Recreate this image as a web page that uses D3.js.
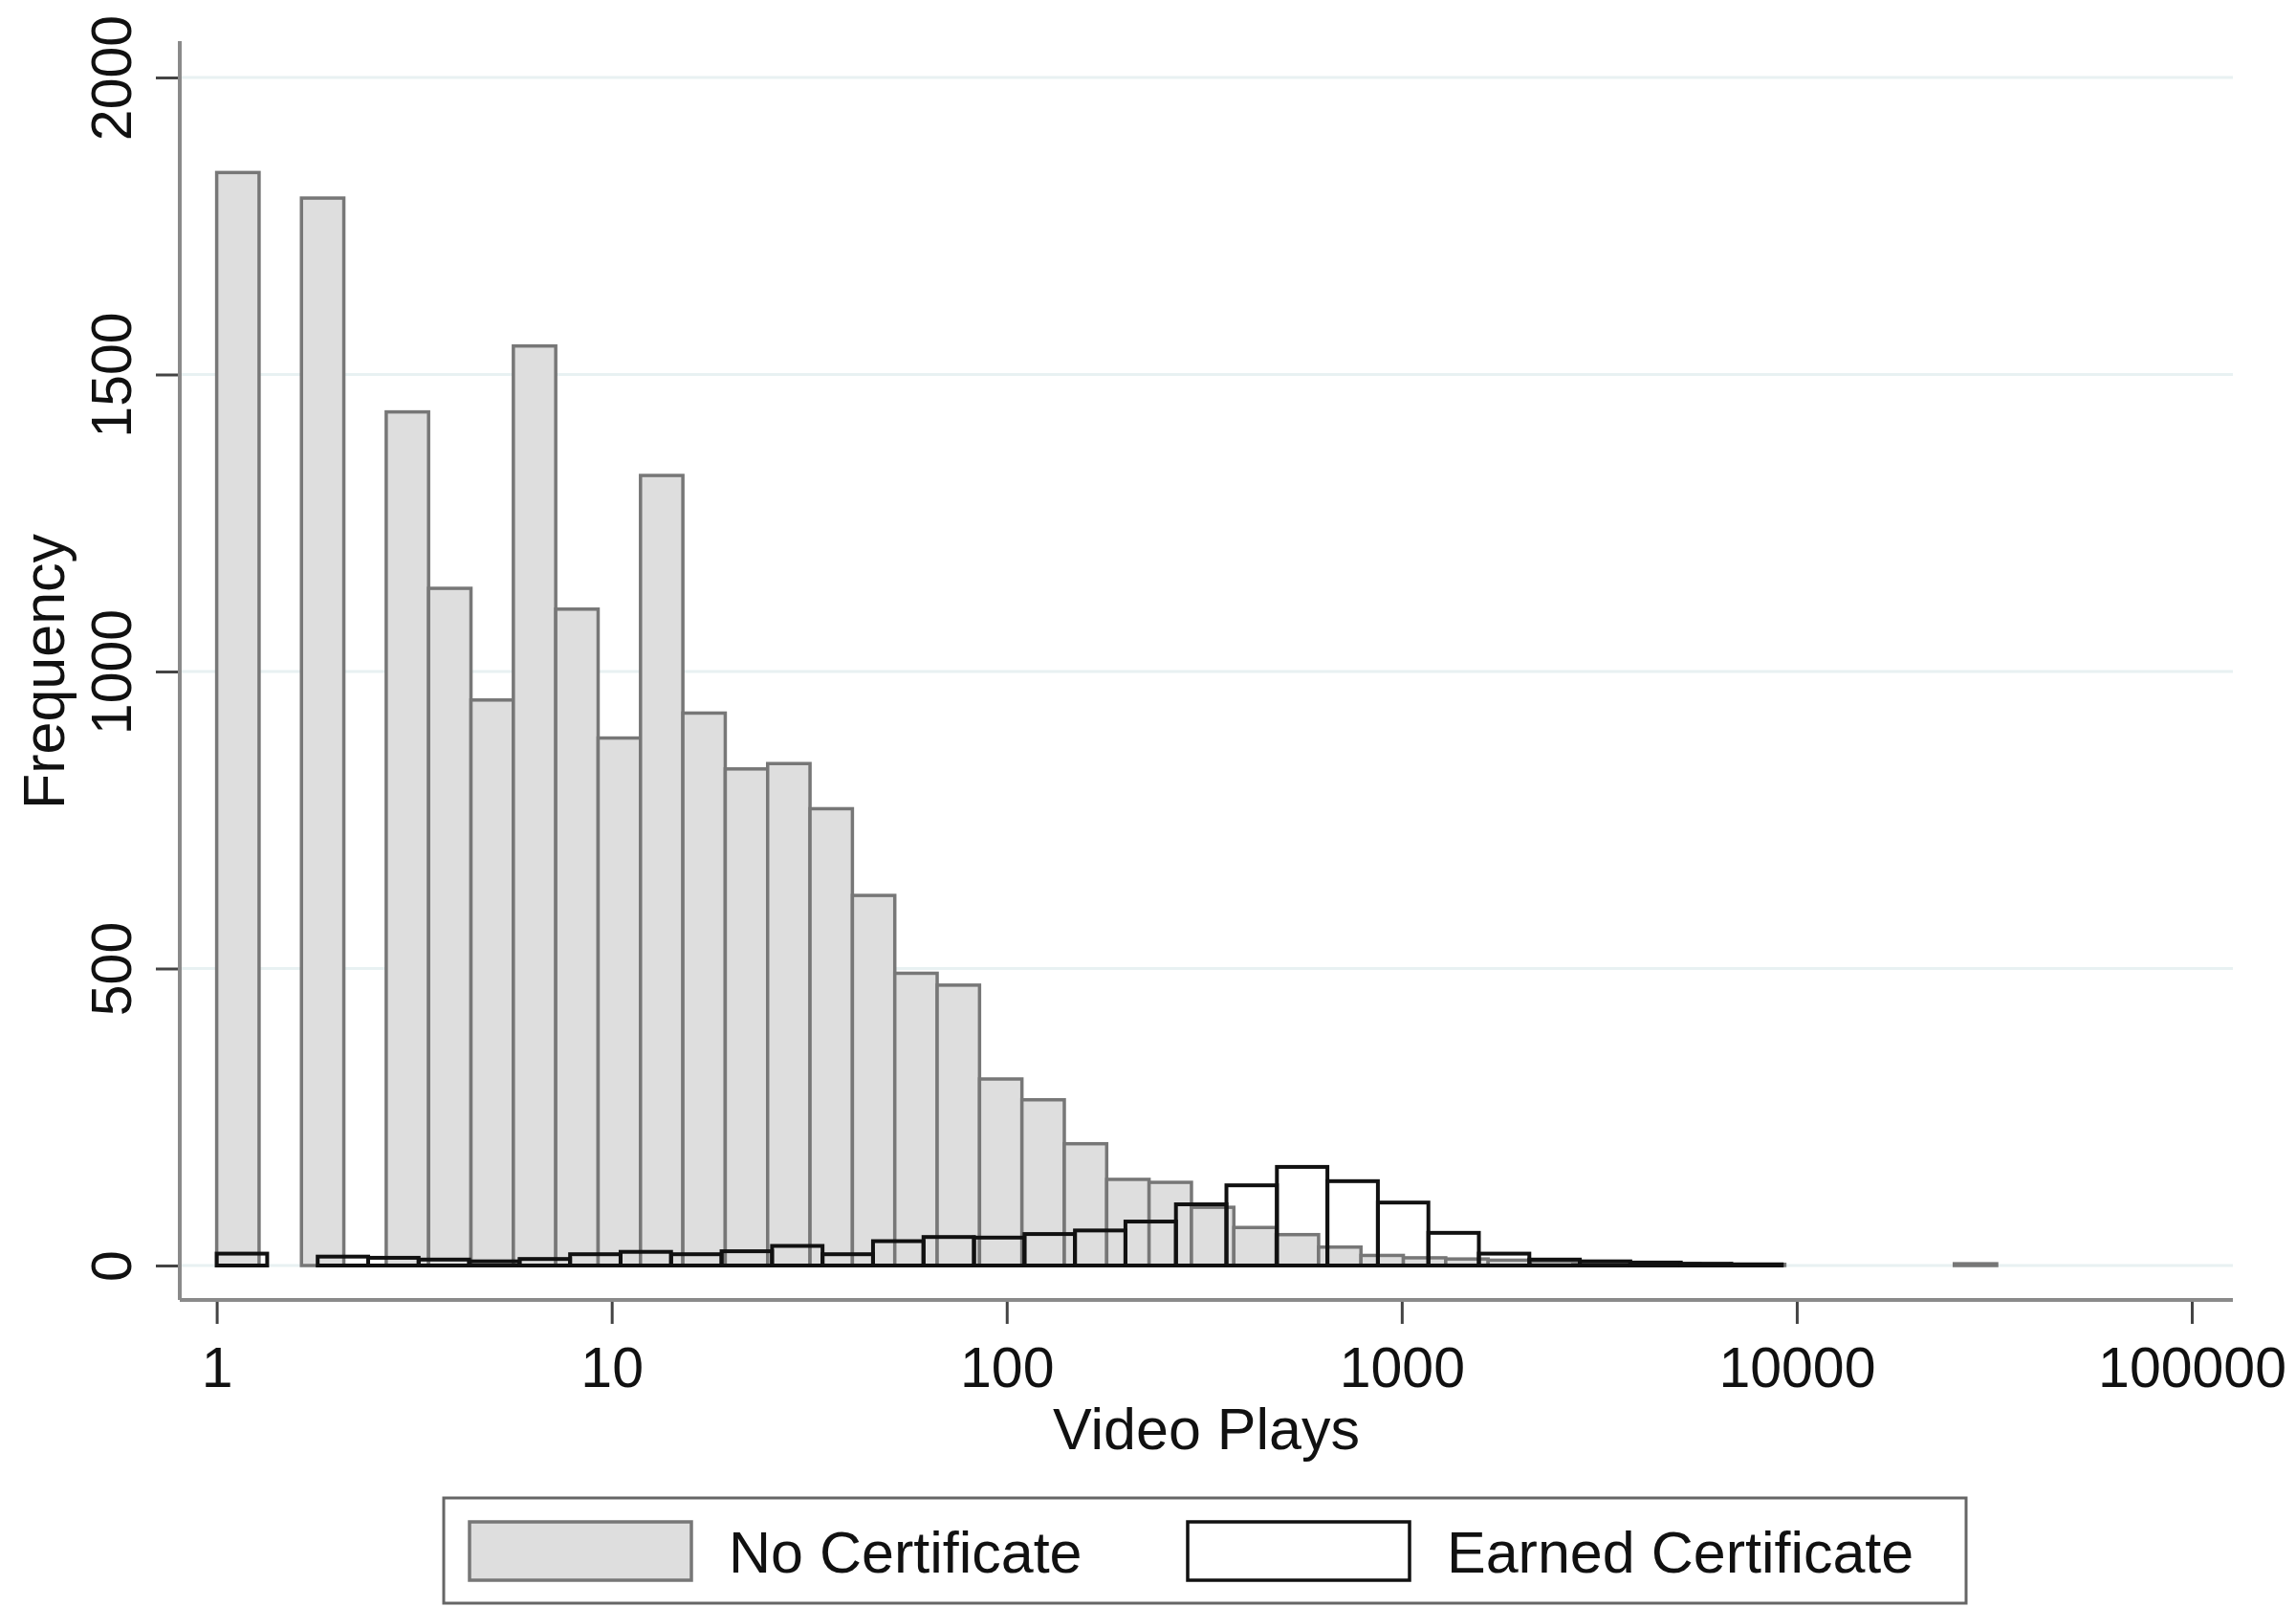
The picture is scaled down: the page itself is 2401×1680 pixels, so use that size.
<!DOCTYPE html>
<html>
<head>
<meta charset="utf-8">
<script src="https://cdn.jsdelivr.net/npm/d3@7"></script>
<style>
  body { margin: 0; background: #fff; }
  svg { display: block; }
  text { font-family: "Liberation Sans", Arial, Helvetica, sans-serif; fill: #111; }
</style>
</head>
<body>
<script>
// histogram bins are equal width in log10(video plays), starting at 1 play
let grayBinWidth = 0.10729;
let earnedBinWidth = 0.12781;

// No Certificate counts per bin
let noCertCounts = [1840, 0, 1797, 0, 1437, 1140, 952, 1548, 1105, 888,
	1330, 930, 836, 845, 769, 623, 492, 472, 314, 279,
	205, 145, 140, 98, 64, 52, 31, 17, 13, 11,
	9, 7, 5, 4, 3, 2, 2, 0, 0, 0, 0, 3];

// Earned Certificate counts per bin
let earnedCounts = [20, 0, 15, 13, 10, 7, 11, 19, 23, 19,
	24, 33, 19, 41, 48, 47, 53, 59, 74, 103,
	135, 166, 142, 106, 55, 20, 10, 7, 5, 3, 2];

let xTicks = [1, 10, 100, 1000, 10000, 100000];
let yTicks = [0, 500, 1000, 1500, 2000];
let legendLabels = ["No Certificate", "Earned Certificate"];

let width = 2401, height = 1680;
let axisX = 188, axisY = 1359, plotRight = 2335, plotTop = 43;

let x = d3.scaleLog().domain([1, 100000]).range([226.6, 2292]);
let y = d3.scaleLinear().domain([0, 2000]).range([1323, 81]);

function bins(counts, w) {
	return counts.map((c, i) => ({
		x0: Math.pow(10, i * w),
		x1: Math.pow(10, (i + 1) * w),
		count: c
	})).filter(d => d.count > 0);
}

let svg = d3.select("body").append("svg")
	.attr("width", width)
	.attr("height", height);

// gridlines
svg.append("g")
	.selectAll("line")
	.data(yTicks)
	.join("line")
		.attr("x1", axisX)
		.attr("x2", plotRight)
		.attr("y1", d => y(d))
		.attr("y2", d => y(d))
		.attr("stroke", "#e8f1f2")
		.attr("stroke-width", 3);

// no certificate bars
svg.append("g")
	.selectAll("rect")
	.data(bins(noCertCounts, grayBinWidth))
	.join("rect")
		.attr("x", d => x(d.x0))
		.attr("width", d => x(d.x1) - x(d.x0))
		.attr("y", d => y(d.count))
		.attr("height", d => y(0) - y(d.count))
		.attr("fill", "#dedede")
		.attr("stroke", "#777")
		.attr("stroke-width", 3.5);

// earned certificate bars (outline only)
svg.append("g")
	.selectAll("rect")
	.data(bins(earnedCounts, earnedBinWidth))
	.join("rect")
		.attr("x", d => x(d.x0))
		.attr("width", d => x(d.x1) - x(d.x0))
		.attr("y", d => y(d.count))
		.attr("height", d => y(0) - y(d.count))
		.attr("fill", "none")
		.attr("stroke", "#111")
		.attr("stroke-width", 4);

// y axis
let yAxis = svg.append("g")
	.attr("transform", "translate(" + axisX + ",0)")
	.call(d3.axisLeft(y).tickValues(yTicks).tickSize(25).tickFormat(d3.format("d")));
yAxis.select(".domain").remove();
yAxis.selectAll(".tick line").attr("stroke", "#444").attr("stroke-width", 3);
yAxis.selectAll(".tick text")
	.attr("x", null)
	.attr("dy", null)
	.attr("transform", "translate(-51,0) rotate(-90)")
	.attr("text-anchor", "middle")
	.style("font-size", "59px")
	.attr("fill", "#111");

// x axis
let xAxis = svg.append("g")
	.attr("transform", "translate(0," + axisY + ")")
	.call(d3.axisBottom(x).tickValues(xTicks).tickSize(25).tickPadding(24).tickFormat(d3.format("d")));
xAxis.select(".domain").remove();
xAxis.selectAll(".tick line").attr("stroke", "#444").attr("stroke-width", 3);
xAxis.selectAll(".tick text")
	.style("font-size", "59px")
	.attr("fill", "#111");

// axis lines
svg.append("line")
	.attr("x1", axisX).attr("x2", axisX)
	.attr("y1", plotTop).attr("y2", axisY)
	.attr("stroke", "#8a8a8a").attr("stroke-width", 4);
svg.append("line")
	.attr("x1", axisX).attr("x2", plotRight)
	.attr("y1", axisY).attr("y2", axisY)
	.attr("stroke", "#8a8a8a").attr("stroke-width", 4);

// axis titles
svg.append("text")
	.attr("transform", "translate(67,702) rotate(-90)")
	.attr("text-anchor", "middle")
	.style("font-size", "61px")
	.text("Frequency");
svg.append("text")
	.attr("x", (axisX + plotRight) / 2)
	.attr("y", 1515)
	.attr("text-anchor", "middle")
	.style("font-size", "61px")
	.text("Video Plays");

// legend
let legend = svg.append("g");
legend.append("rect")
	.attr("x", 464).attr("y", 1566)
	.attr("width", 1592).attr("height", 110)
	.attr("fill", "#fff")
	.attr("stroke", "#666")
	.attr("stroke-width", 3);
let swatchX = [491, 1242];
let swatchFill = ["#dedede", "#fff"];
let swatchStroke = ["#777", "#111"];
legend.selectAll("rect.sw")
	.data(legendLabels)
	.join("rect")
		.attr("class", "sw")
		.attr("x", (d, i) => swatchX[i])
		.attr("y", 1591)
		.attr("width", 232)
		.attr("height", 61)
		.attr("fill", (d, i) => swatchFill[i])
		.attr("stroke", (d, i) => swatchStroke[i])
		.attr("stroke-width", 3.5);
legend.selectAll("text")
	.data(legendLabels)
	.join("text")
		.attr("x", (d, i) => swatchX[i] + 271)
		.attr("y", 1644)
		.style("font-size", "61px")
		.text(d => d);
</script>
</body>
</html>
